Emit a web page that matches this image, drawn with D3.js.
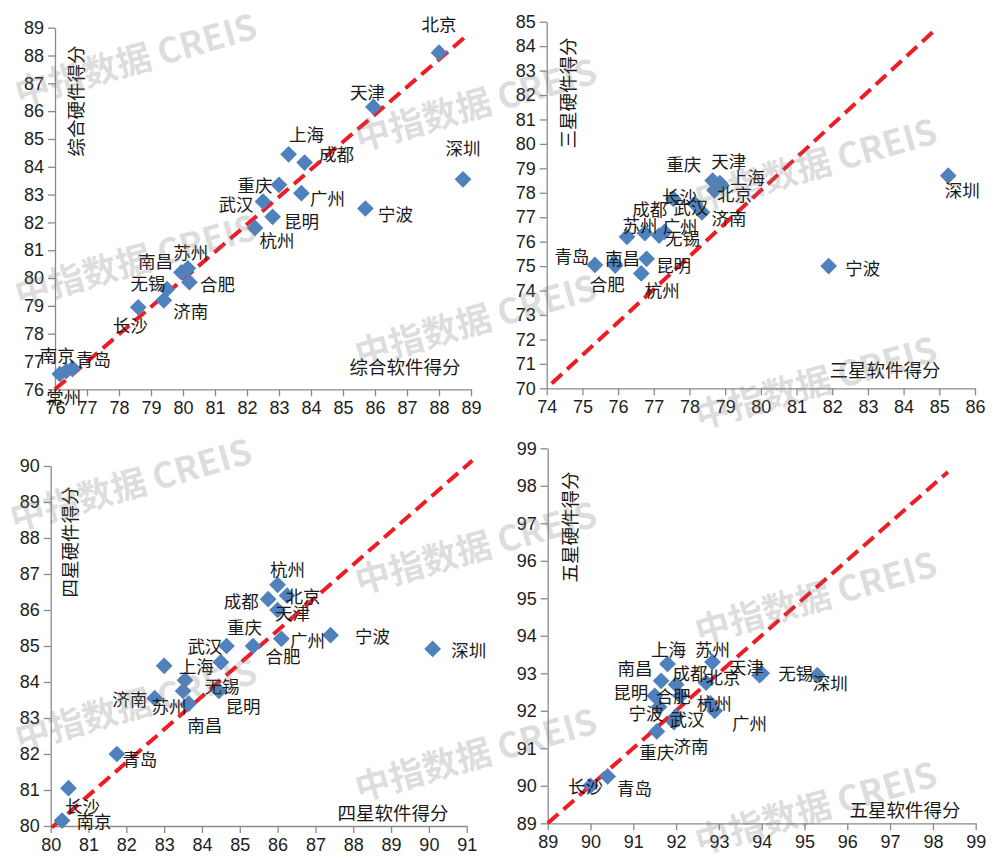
<!DOCTYPE html>
<html><head><meta charset="utf-8">
<script src="https://cdn.jsdelivr.net/npm/d3@7"></script>
<style>
body{margin:0;background:#fff;}
svg{display:block;}
</style></head><body>
<svg id="c" width="1000" height="865"></svg>
<script>
// ---------- DATA ----------
// Panel 1: 综合
const cities1 = ["北京","天津","上海","成都","重庆","武汉","广州","昆明","杭州","宁波","深圳","南昌","苏州","合肥","无锡","济南","长沙","南京","青岛","常州"];
const soft1   = [88.0,85.95,83.3,83.8,83.0,82.5,83.7,82.8,82.25,85.7,88.75,79.95,80.15,80.2,79.5,79.4,78.6,76.35,76.55,76.15];
const hard1   = [88.1,86.15,84.45,84.15,83.35,82.75,83.05,82.2,81.8,82.5,83.55,80.2,80.35,79.85,79.6,79.2,78.95,76.65,76.75,76.55];
const xTicks1 = [76,77,78,79,80,81,82,83,84,85,86,87,88,89];
const yTicks1 = [76,77,78,79,80,81,82,83,84,85,86,87,88,89];
const refLine1 = [[76,76],[88.85,88.7]];

// Panel 2: 三星
const cities2 = ["青岛","南昌","合肥","昆明","杭州","苏州","成都","广州","无锡","长沙","武汉","济南","重庆","天津","上海","北京","宁波","深圳"];
const soft2   = [75.35,75.9,75.92,76.8,76.65,76.25,76.75,77.15,77.3,77.55,78.15,78.35,78.65,78.85,78.9,78.7,81.9,85.25];
const hard2   = [75.05,75.1,75.02,75.3,74.7,76.2,76.35,76.25,76.4,77.75,77.55,77.2,78.5,78.4,78.3,78.1,75.0,78.7];
const xTicks2 = [74,75,76,77,78,79,80,81,82,83,84,85,86];
const yTicks2 = [70,71,72,73,74,75,76,77,78,79,80,81,82,83,84,85];
const refLine2 = [[74.14,70.2],[84.81,84.57]];

// Panel 3: 四星
const cities3 = ["南京","长沙","青岛","济南","上海","无锡","苏州","南昌","昆明","武汉","重庆","合肥","广州","杭州","成都","北京","天津","宁波","深圳"];
const soft3   = [80.3,80.47,81.75,82.75,83.0,83.55,83.5,83.65,84.45,84.5,84.65,85.35,86.1,86.0,85.75,86.25,86.0,87.4,90.1];
const hard3   = [80.15,81.05,82.0,83.55,84.45,84.05,83.75,83.4,83.75,84.55,85.0,85.0,85.2,86.7,86.3,86.4,86.0,85.3,84.92];
const xTicks3 = [80,81,82,83,84,85,86,87,88,89,90,91];
const yTicks3 = [80,81,82,83,84,85,86,87,88,89,90];
const refLine3 = [[80.03,79.96],[91.15,90.15]];

// Panel 4: 五星
const cities4 = ["上海","苏州","南昌","成都","昆明","合肥","北京","杭州","广州","武汉","济南","宁波","重庆","天津","无锡","深圳","长沙","青岛"];
const soft4   = [91.8,92.85,91.65,92.0,91.5,92.1,92.7,92.8,92.9,92.0,91.95,91.6,91.55,93.95,94.0,95.3,90.0,90.4];
const hard4   = [93.25,93.3,92.8,92.7,92.4,92.4,92.75,92.2,92.0,91.85,91.7,92.1,91.45,92.95,93.0,92.95,90.0,90.25];
const xTicks4 = [89,90,91,92,93,94,95,96,97,98,99];
const yTicks4 = [89,90,91,92,93,94,95,96,97,98,99];
const refLine4 = [[89,89],[98.35,98.37]];

// ---------- LAYOUT (label placement offsets in px, not data) ----------
const labelOffsets1 = {北京:[0,-29],天津:[-6,-15],上海:[18,-21],成都:[32,-9],重庆:[-24,0],武汉:[-27,2],广州:[26,4],昆明:[29,4],杭州:[22,12],宁波:[30,5],深圳:[0,-32],南昌:[-26,-12],苏州:[3,-17],合肥:[28,1],无锡:[-19,-7],济南:[27,10],长沙:[-8,17],南京:[-9,-17],青岛:[21,-10],常州:[4,22]};
const labelOffsets2 = {青岛:[-23,-9],南昌:[8,-6],合肥:[-8,18],昆明:[27,6],杭州:[21,16],苏州:[13,-12],成都:[5,-25],广州:[21,-10],无锡:[18,6],长沙:[6,-3],武汉:[-4,3],济南:[27,5],重庆:[-29,-17],天津:[9,-23],上海:[26,-9],北京:[20,3],宁波:[34,1],深圳:[14,14]};
const labelOffsets3 = {南京:[32,0],长沙:[14,17],青岛:[23,4],济南:[-25,0],上海:[32,0],无锡:[37,5],苏州:[-14,14],南昌:[16,21],昆明:[24,14],武汉:[-16,-17],重庆:[18,-20],合肥:[30,9],广州:[26,1],杭州:[10,-16],成都:[-27,1],北京:[16,0],天津:[15,2],宁波:[42,0],深圳:[36,1]};
const labelOffsets4 = {上海:[1,-15],苏州:[0,-14],南昌:[-26,-13],成都:[14,-12],昆明:[-24,-4],合肥:[-7,0],北京:[17,-6],杭州:[4,-1],广州:[35,12],武汉:[11,2],济南:[17,23],宁波:[-13,5],重庆:[0,20],天津:[-13,-9],无锡:[34,-1],深圳:[13,7],长沙:[-5,0],青岛:[27,11]};

const panels = [
  {cities:cities1, soft:soft1, hard:hard1, xTicks:xTicks1, yTicks:yTicks1, line:refLine1, offs:labelOffsets1,
   rect:{x0:55,x1:471,y0:27.7,y1:389.3}, xTitle:"综合软件得分", yTitle:"综合硬件得分", xT:[405,366], yT:[75,101]},
  {cities:cities2, soft:soft2, hard:hard2, xTicks:xTicks2, yTicks:yTicks2, line:refLine2, offs:labelOffsets2,
   rect:{x0:546.7,x1:975,y0:21.7,y1:388.3}, xTitle:"三星软件得分", yTitle:"三星硬件得分", xT:[885,369], yT:[567,93]},
  {cities:cities3, soft:soft3, hard:hard3, xTicks:xTicks3, yTicks:yTicks3, line:refLine3, offs:labelOffsets3,
   rect:{x0:50.7,x1:466.7,y0:466,y1:826}, xTitle:"四星软件得分", yTitle:"四星硬件得分", xT:[393,812], yT:[69,542]},
  {cities:cities4, soft:soft4, hard:hard4, xTicks:xTicks4, yTicks:yTicks4, line:refLine4, offs:labelOffsets4,
   rect:{x0:547.7,x1:975.7,y0:448.3,y1:823.3}, xTitle:"五星软件得分", yTitle:"五星硬件得分", xT:[905,809], yT:[569,527]}
];

const watermarks = [[135,57],[475,102],[815,162],[135,258],[475,318],[815,380],[130,482],[475,545],[815,595],[135,702],[475,752],[815,805]];

// ---------- DRAW ----------
const svg = d3.select("#c");
const CJK = "'Noto Sans CJK SC','Noto Sans',sans-serif";
const NUM = "'Liberation Sans',Arial,sans-serif";
const diamond = d3.symbol().type(d3.symbolSquare).size(140);

panels.forEach(p => {
  const r = p.rect;
  const x = d3.scaleLinear().domain([p.xTicks[0], p.xTicks[p.xTicks.length-1]]).range([r.x0, r.x1]);
  const y = d3.scaleLinear().domain([p.yTicks[0], p.yTicks[p.yTicks.length-1]]).range([r.y1, r.y0]);
  const g = svg.append("g");

  const xa = g.append("g").attr("transform", `translate(0,${r.y1})`)
    .call(d3.axisBottom(x).tickValues(p.xTicks).tickFormat(d3.format("d")).tickSize(7).tickSizeOuter(0).tickPadding(5));
  const ya = g.append("g").attr("transform", `translate(${r.x0},0)`)
    .call(d3.axisLeft(y).tickValues(p.yTicks).tickFormat(d3.format("d")).tickSize(7).tickSizeOuter(0).tickPadding(4));
  [xa, ya].forEach(a => {
    a.select(".domain").attr("stroke", "#8a8a8a").attr("stroke-width", 1.3);
    a.selectAll(".tick line").attr("stroke", "#8a8a8a").attr("stroke-width", 1.3);
    a.selectAll(".tick text").attr("font-family", NUM).attr("font-size", 18).attr("fill", "#1e1e1e");
  });

  // reference dashed line
  g.append("line")
    .attr("x1", x(p.line[0][0])).attr("y1", y(p.line[0][1]))
    .attr("x2", x(p.line[1][0])).attr("y2", y(p.line[1][1]))
    .attr("stroke", "#ee1c25").attr("stroke-width", 4)
    .attr("stroke-dasharray", "14,7");

  const pts = p.cities.map((c, i) => ({c, sx: p.soft[i], hy: p.hard[i]}));
  g.append("g").selectAll("path").data(pts).join("path")
    .attr("d", diamond)
    .attr("transform", d => `translate(${x(d.sx)},${y(d.hy)}) rotate(45)`)
    .attr("fill", "#4F81BD");

  g.append("g").selectAll("text").data(pts).join("text")
    .attr("x", d => x(d.sx) + (p.offs[d.c] || [0,0])[0])
    .attr("y", d => y(d.hy) + (p.offs[d.c] || [0,0])[1])
    .attr("text-anchor", "middle").attr("dominant-baseline", "central")
    .attr("font-family", CJK).attr("font-size", 17.5).attr("fill", "#1a1a1a")
    .text(d => d.c);

  g.append("text").attr("x", p.xT[0]).attr("y", p.xT[1])
    .attr("text-anchor", "middle").attr("dominant-baseline", "central")
    .attr("font-family", CJK).attr("font-size", 18.5).attr("fill", "#1a1a1a")
    .text(p.xTitle);
  g.append("text").attr("transform", `translate(${p.yT[0]},${p.yT[1]}) rotate(-90)`)
    .attr("text-anchor", "middle").attr("dominant-baseline", "central")
    .attr("font-family", CJK).attr("font-size", 18.5).attr("fill", "#1a1a1a")
    .text(p.yTitle);
});

// watermarks
svg.append("g").selectAll("text").data(watermarks).join("text")
  .attr("transform", d => `translate(${d[0]},${d[1]}) rotate(-16)`)
  .attr("text-anchor", "middle").attr("dominant-baseline", "central")
  .attr("font-family", CJK).attr("font-weight", 700).attr("font-size", 35)
  .attr("fill", "#7a7a7a").attr("fill-opacity", 0.25)
  .text("中指数据 CREIS");
</script>
</body></html>
